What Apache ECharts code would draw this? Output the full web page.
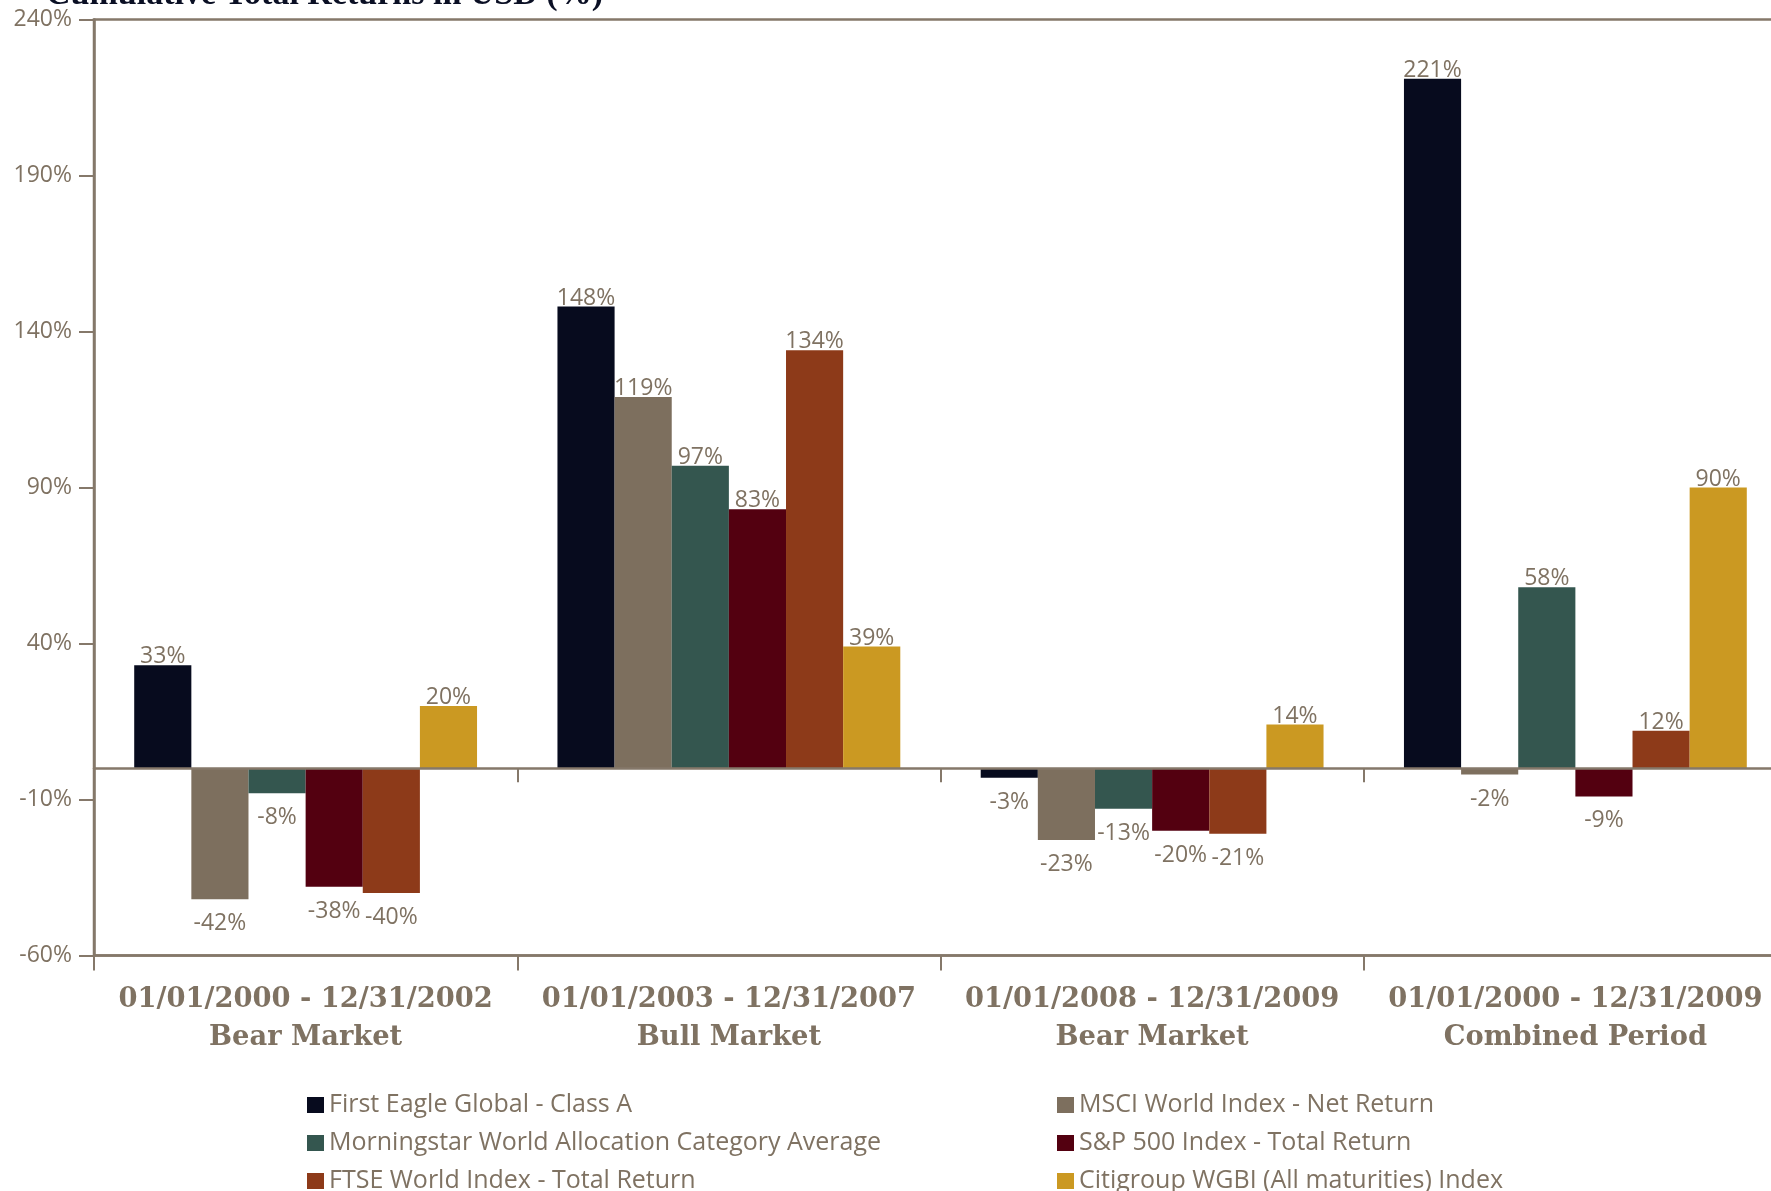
<!DOCTYPE html>
<html>
<head>
<meta charset="utf-8">
<script src="https://cdn.jsdelivr.net/npm/echarts@6/dist/echarts.min.js"></script>
<style>
html,body{margin:0;padding:0;background:#fff;overflow:hidden;width:1771px;height:1191px;}
#chart{width:1787px;height:1191px;}
</style>
</head>
<body>
<div id="chart"></div>
<script>
const titleText = 'Cumulative Total Returns in USD (%)';
const categories = [
  '01/01/2000 - 12/31/2002\nBear Market',
  '01/01/2003 - 12/31/2007\nBull Market',
  '01/01/2008 - 12/31/2009\nBear Market',
  '01/01/2000 - 12/31/2009\nCombined Period'
];
const seriesNames = [
  'First Eagle Global - Class A',
  'MSCI World Index - Net Return',
  'Morningstar World Allocation Category Average',
  'S&P 500 Index - Total Return',
  'FTSE World Index - Total Return',
  'Citigroup WGBI (All maturities) Index'
];
const firstEagle   = [33, 148, -3, 221];
const msciWorld    = [-42, 119, -23, -2];
const morningstar  = [-8, 97, -13, 58];
const sp500        = [-38, 83, -20, -9];
const ftseWorld    = [-40, 134, -21, 12];
const citigroup    = [20, 39, 14, 90];
const yTicks = { min: -60, max: 240, interval: 50 };

const seriesValues = [firstEagle, msciWorld, morningstar, sp500, ftseWorld, citigroup];
const colors = ['#070b1e', '#7d6f5e', '#34564f', '#530010', '#8d3a19', '#cb9922'];
const textColor = '#7f7262';
const lineColor = '#85786a';

// legend placement: [left, row center y]
const legendPos = [[307, 1105], [1057, 1105], [307, 1143], [1057, 1143], [307, 1181], [1057, 1181]];

const chart = echarts.init(document.getElementById('chart'));

const series = seriesValues.map((vals, i) => ({
  name: seriesNames[i],
  type: 'bar',
  barGap: '0%',
  barCategoryGap: '19%',
  itemStyle: { color: colors[i] },
  label: {
    show: true,
    formatter: '{c}%',
    fontFamily: 'Open Sans',
    fontSize: 23,
    color: textColor
  },
  data: vals.map(v => ({
    value: v,
    label: v >= 0 ? { position: 'top', distance: -3 } : { position: 'bottom', distance: 13 }
  }))
}));

const legends = seriesNames.map((name, i) => ({
  data: [name],
  orient: 'horizontal',
  left: legendPos[i][0],
  top: legendPos[i][1] - 12.5,
  padding: 0,
  itemWidth: 17, itemHeight: 16, icon: 'rect',
  textStyle: { fontFamily: 'Open Sans', fontSize: 25, color: textColor }
}));

chart.setOption({
  animation: false,
  backgroundColor: '#ffffff',
  title: {
    text: titleText,
    left: 46,
    top: -22,
    padding: 0,
    textStyle: { fontFamily: 'Liberation Serif', fontWeight: 'bold', fontSize: 34, color: '#0a0f24' }
  },
  legend: legends,
  grid: {
    left: 94, right: 0, top: 19.5, bottom: 235.5,
    show: true, borderColor: lineColor, borderWidth: 2.5, backgroundColor: 'transparent',
    containLabel: false
  },
  xAxis: [
    {
      type: 'category',
      data: categories,
      position: 'bottom',
      axisLine: { show: true, onZero: false, lineStyle: { color: lineColor, width: 2.5 } },
      axisTick: { show: true, interval: 0, length: 15, lineStyle: { color: lineColor, width: 2 } },
      axisLabel: {
        interval: 0,
        fontFamily: 'DejaVu Serif', fontWeight: 'bold', fontSize: 27.3,
        lineHeight: 38, color: textColor, margin: 25
      },
      splitLine: { show: false }
    },
    {
      type: 'category',
      data: categories,
      position: 'top',
      z: 5,
      axisLine: { show: true, onZero: true, lineStyle: { color: lineColor, width: 2.5 } },
      axisTick: { show: true, interval: 0, inside: true, length: 14, lineStyle: { color: lineColor, width: 2 } },
      axisLabel: { show: false },
      splitLine: { show: false }
    }
  ],
  yAxis: {
    type: 'value',
    min: yTicks.min, max: yTicks.max, interval: yTicks.interval,
    axisLine: { show: true, lineStyle: { color: lineColor, width: 2.5 } },
    axisTick: { show: true, length: 15, lineStyle: { color: lineColor, width: 2 } },
    axisLabel: { formatter: '{value}%', fontFamily: 'Open Sans', fontSize: 23, color: textColor, margin: 22 },
    splitLine: { show: false }
  },
  series: series
});
</script>
</body>
</html>
